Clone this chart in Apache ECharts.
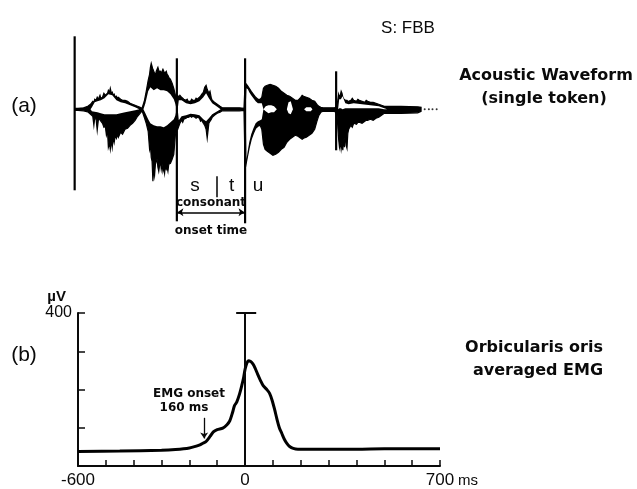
<!DOCTYPE html>
<html><head><meta charset="utf-8">
<script src="https://cdn.jsdelivr.net/npm/echarts@6/dist/echarts.min.js"></script>
<style>html,body{margin:0;padding:0;background:#fff}#c{width:637px;height:489px}</style>
</head><body><div id="c"></div>
<script>
// ---------- Panel (b): averaged EMG (time in ms, amplitude in microvolts) ----------
var emgTime = [-600,-450,-300,-250,-200,-175,-160,-150,-140,-125,-114,-100,-80,-65,-55,-45,-38,-30,-20,-12,-5,0,6,12,20,28,36,45,55,65,78,88,97,106,114,123,132,141,150,160,173,190,300,400,500,600,700];
var emgMicroV = [38,39,41,43,47,52,56,60,64,78,89,95,99,108,118,140,158,167,188,210,232,253,268,275,273,267,256,240,224,210,200,190,172,148,124,100,85,70,59,51,46,44,44,44,45,45,45];
var xTickLabels = {'-600':'-600','0':'0','700':'700'};
var yTickLabels = {'400':'400'};

// ---------- Panel (a): acoustic waveform envelope (time in ms, amplitude arbitrary) ----------
// segment 1: before the fricative
var seg1Time  = [-612,-600,-580,-565,-555,-547,-543,-540,-535,-531,-527,-521,-518,-512,-507,-502,-498,-494,-491,-487,-484,-480,-477,-473,-470,-466,-462,-458,-455,-447,-440,-431,-422,-413,-404,-395,-386,-377,-370,-362,-355,-348,-343,-340,-337,-334,-331,-328,-325,-322,-319,-316,-313,-310,-307,-304,-301,-298,-295,-292,-289,-286,-283,-280,-277,-274,-268,-262,-256,-250,-245];
var seg1Upper = [1,1,1.5,3,5,8,7,10,9,12,10,14,11,12,16,14,15,16,19,17,21,16,17,14,15,12,13,11,12,10,9,9,8,6,5,4,3,2,1,8,18,29,35,42,46,43,40,38,36,34,38,40,42,39,37,38,36,38,40,38,36,37,38,35,34,32,30,26,21,14,14];
var seg1Lower = [-1,-1,-1.5,-2.5,-5,-7,-16,-9,-10,-21,-11,-10,-12,-14,-18,-17,-26,-22,-38,-34,-40,-31,-38,-28,-33,-26,-29,-25,-28,-23,-25,-20,-19,-16,-14,-11,-7,-4,-1.5,-8,-14,-22,-40,-36,-48,-52,-72,-60,-66,-55,-52,-50,-58,-62,-56,-52,-60,-55,-62,-58,-64,-56,-60,-58,-62,-55,-54,-50,-45,-25,-20];
// segment 2: "s" / "t" consonant
var seg2Time  = [-242,-238,-234,-228,-224,-220,-212,-208,-204,-196,-192,-188,-180,-176,-172,-164,-160,-156,-150,-145,-140,-136,-130,-126,-121,-118,-110,-100,-90,-82,-20,-4];
var seg2Upper = [14,12,14,12,11,10,9,10,8,8,10,9,9,11,10,12,13,15,17,22,24,20,16,18,11,9,7,5,3,1.5,1.5,1];
var seg2Lower = [-20,-17,-14,-11,-13,-10,-9,-8,-8,-7,-8,-7,-8,-9,-8,-9,-12,-11,-14,-16,-20,-29,-14,-12,-10,-8,-6,-4,-3,-1.5,-1.5,-1];
// segment 3: "u" vowel
var seg3Time  = [0,2,8,15,22,30,38,46,54,60,66,72,80,90,100,110,120,130,140,150,160,170,180,190,200,205,210,220,230,240,250,258,265,272,280,322];
var seg3Upper = [26,26,24,21,18,15,12,10,10,12,21,23,24,25,24,23,21,18,16,14,13,11,9,9,12,14,13,12,11,9,8,5,3,2,1.5,1.5];
var seg3Lower = [-57,-57,-48,-38,-30,-24,-19,-17,-16,-20,-35,-40,-42,-44,-46,-45,-43,-40,-38,-33,-30,-28,-26,-27,-29,-30,-29,-28,-26,-24,-20,-12,-6,-3,-2,-2];
// segment 4: after the second burst
var seg4Time  = [330,336,339,342,345,348,351,354,357,360,363,366,369,372,380,385,390,400,405,410,420,430,435,440,450,460,470,480,490,500,560,620,632];
var seg4Upper = [3,15,12,14,18,16,12,10,10,9,9,9,8,8,9,11,9,8,10,9,8,7,9,8,7,7,6,5,4,3,3,2.5,2];
var seg4Lower = [-5,-30,-38,-33,-40,-34,-41,-30,-38,-22,-36,-39,-24,-20,-16,-18,-14,-15,-13,-13,-14,-12,-11,-11,-10,-11,-9,-8,-6,-4,-4,-3.5,-2];
// white gaps inside the black envelope
var gapTime  = [-555,-550,-540,-530,-518,-505,-491,-477,-462,-447,-431,-413,-395,-380,-365,-358,-348,-340,-328,-316,-304,-292,-280,-268,-256,-250,-246,-242,-238,-228,-212,-196,-180,-164,-150,-140,-130,-118,-100,-88,2,5,10,15,22,30,38,46,54,60,66,74,84,94,104,114,150,156,164,172,212,220,236,242,334,338,344,350,360,372,390,420,450,480,500,510];
var gapUpper = [0,2,7,8,9,11,15,14,9,7,6,4,2,0,0,6,18,22,19,21,19,19,18,15,10,5,0,0,9,9,6,5,6,8,12,16,11,6,2.5,0,0,21,20,17,14,11,8,6,6,6,0,3,4,4,3,0,0,7,8,0,0,2,2,0,0,10,10,13,6,5,6,5,4,3,1,0];
var gapLower = [0,-2,-2.5,-3,-4,-5,-5,-5,-5,-4,-3,-2,-1,0,0,-4,-10,-14,-16,-17,-17,-18,-16,-13,-10,-6,0,0,-11,-7,-6,-4.5,-5,-6,-10,-12,-9,-5,-2,0,0,-50,-41,-33,-25,-19,-14,-12,-11,-10,0,-2,-4,-3,-3,0,0,-4,-5,0,0,-2,-2,0,0,1,1,0,1,1,1,1,1,1,0,0];
// segment boundary lines: time, top, bottom
var markerTime   = [-612,-245,0,327];
var markerTop    = [73,51,51,38];
var markerBottom = [-81,-112,-114,-41];
var tailDots = [645,660,673,688];

var waveTime  = seg1Time.concat(seg2Time, seg3Time, seg4Time);
var waveUpper = seg1Upper.concat(seg2Upper, seg3Upper, seg4Upper);
var waveLower = seg1Lower.concat(seg2Lower, seg3Lower, seg4Lower);

var INK = '#0a0a0a';
var chart = echarts.init(document.getElementById('c'), null, {renderer:'canvas'});

function txt(text, x, y, font, align){
  return {type:'text', x:x, y:y, silent:true,
    style:{text:text, font:font, fill:INK, textAlign:align||'center', textVerticalAlign:'middle', align:align||'center', verticalAlign:'middle'}};
}
function band(times, upper, lower, fill, stroke){
  return function(params, api){
    var pts = [], i;
    for (i = 0; i < times.length; i++) pts.push(api.coord([times[i], upper[i]]));
    for (i = times.length - 1; i >= 0; i--) pts.push(api.coord([times[i], lower[i]]));
    return {type:'polygon', shape:{points:pts}, style:{fill:fill, stroke:stroke || null, lineWidth:stroke ? 1.2 : 0}};
  };
}

var option = {
  animation:false,
  backgroundColor:'#ffffff',
  grid:[
    {left:78, right:197, top:29.3, height:210},
    {left:78, right:197, top:313, bottom:21}
  ],
  xAxis:[
    {gridIndex:0, type:'value', min:-600, max:700, show:false},
    {gridIndex:1, type:'value', min:-600, max:700, interval:100,
      axisLine:{show:true, onZero:false, lineStyle:{color:INK, width:2}},
      axisTick:{show:true, inside:true, length:6, lineStyle:{color:INK, width:1.5}},
      splitLine:{show:false},
      axisLabel:{showMinLabel:true, showMaxLabel:true, margin:6, color:INK, fontSize:17, fontFamily:'Liberation Sans',
        formatter:function(v){ return xTickLabels[String(v)] || ''; }},
      name:'ms', nameLocation:'end', nameGap:0,
      nameTextStyle:{color:INK, fontSize:15, fontFamily:'Liberation Sans', verticalAlign:'top', padding:[7,0,0,0]}
    }
  ],
  yAxis:[
    {gridIndex:0, type:'value', min:-130, max:80, show:false},
    {gridIndex:1, type:'value', min:0, max:400, interval:100,
      axisLine:{show:true, onZero:false, lineStyle:{color:INK, width:2}},
      axisTick:{show:true, inside:true, length:7, lineStyle:{color:INK, width:1.5}},
      splitLine:{show:false},
      axisLabel:{margin:6, color:INK, fontSize:16, fontFamily:'Liberation Sans',
        formatter:function(v){ return yTickLabels[String(v)] || ''; }},
      name:'µV', nameLocation:'end', nameGap:9,
      nameTextStyle:{color:INK, fontSize:15, fontWeight:'bold', fontFamily:'Liberation Sans', align:'right', padding:[0,12,0,0]}
    }
  ],
  series:[
    { // black envelope of the waveform
      type:'custom', xAxisIndex:0, yAxisIndex:0, clip:false, silent:true,
      data:[[waveTime[0], 0]],
      renderItem:band(waveTime, waveUpper, waveLower, '#000', '#000')
    },
    { // white gaps inside the envelope
      type:'custom', xAxisIndex:0, yAxisIndex:0, clip:false, silent:true,
      data:[[gapTime[0], 0]],
      renderItem:band(gapTime, gapUpper, gapLower, '#fff', null)
    },
    { // vertical segment lines
      type:'custom', xAxisIndex:0, yAxisIndex:0, clip:false, silent:true,
      encode:{x:0, y:[1,2]},
      data:markerTime.map(function(t, i){ return [t, markerTop[i], markerBottom[i]]; }),
      renderItem:function(params, api){
        var a = api.coord([api.value(0), api.value(1)]);
        var b = api.coord([api.value(0), api.value(2)]);
        return {type:'line', shape:{x1:a[0], y1:a[1], x2:b[0], y2:b[1]}, style:{stroke:'#000', lineWidth:2.2}};
      }
    },
    { // trailing dots + annotation lines in panel (a)
      type:'scatter', xAxisIndex:0, yAxisIndex:0, silent:true,
      symbol:'circle', symbolSize:2, itemStyle:{color:'#000'},
      data:tailDots.map(function(t){ return [t, 0]; }),
      markLine:{silent:true, symbol:['none','none'], label:{show:false},
        lineStyle:{color:'#000', type:'solid', width:1.5},
        data:[
          [{coord:[-102,-67]},{coord:[-102,-88]}],
          [{coord:[-243,-103], symbol:'arrow', symbolSize:6},{coord:[-2,-103], symbol:'arrow', symbolSize:6}]
        ]}
    },
    { // averaged EMG
      type:'line', xAxisIndex:1, yAxisIndex:1, silent:true,
      data:emgTime.map(function(t, i){ return [t, emgMicroV[i]]; }),
      showSymbol:false, symbol:'none', smooth:0.3,
      lineStyle:{color:'#000', width:3},
      markLine:{silent:true, symbol:['none','none'], label:{show:false},
        lineStyle:{color:INK, type:'solid', width:2},
        data:[
          [{coord:[0,0]},{coord:[0,400]}],
          [{coord:[-32,400]},{coord:[40,400]}],
          [{coord:[-147,126], lineStyle:{width:1.3}},{coord:[-147,72], symbol:'arrow', symbolSize:6, lineStyle:{width:1.3}}]
        ]}
    }
  ],
  graphic:[
    txt('S: FBB', 408, 28, '17px "Liberation Sans"'),
    txt('(a)', 24, 106, '21px "Liberation Sans"'),
    txt('(b)', 24, 355, '21px "Liberation Sans"'),
    txt('Acoustic Waveform', 546, 76, 'bold 16px "DejaVu Sans"'),
    txt('(single token)', 544, 99, 'bold 16px "DejaVu Sans"'),
    txt('Orbicularis oris', 534, 348, 'bold 16px "DejaVu Sans"'),
    txt('averaged EMG', 538, 371, 'bold 16px "DejaVu Sans"'),
    txt('s', 195, 186, '19px "Liberation Sans"'),
    txt('t', 231.7, 186, '19px "Liberation Sans"'),
    txt('u', 258, 186, '19px "Liberation Sans"'),
    txt('consonant', 211, 203, 'bold 12px "DejaVu Sans"'),
    txt('onset time', 211, 231, 'bold 12px "DejaVu Sans"'),
    txt('EMG onset', 189, 394, 'bold 12px "DejaVu Sans"'),
    txt('160 ms', 184, 408, 'bold 12px "DejaVu Sans"')
  ]
};
chart.setOption(option);
</script>
</body></html>
